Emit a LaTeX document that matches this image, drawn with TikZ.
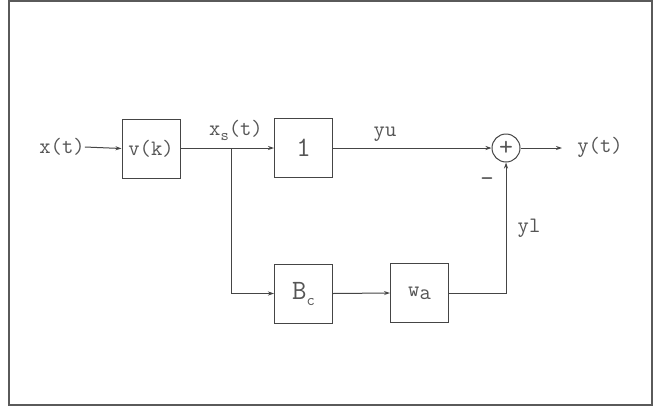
\documentclass[tikz,border=0pt]{standalone}
\usepackage{fontspec}
\usetikzlibrary{arrows.meta}
\definecolor{linec}{HTML}{454545}
\definecolor{txtc}{HTML}{555555}
\definecolor{framec}{HTML}{5A5A5A}
\begin{document}
\begin{tikzpicture}[x=1pt,y=-1pt,
  blk/.style={draw=linec, line width=1pt, minimum width=58pt, minimum height=59pt, inner sep=0pt, fill=white, text=txtc},
  lbl/.style={text=txtc, font=\ttfamily\fontsize{22}{22}\selectfont, inner sep=0pt},
  big/.style={font=\ttfamily\fontsize{28}{28}\selectfont},
  sig/.style={draw=linec, line width=1pt},
  arr/.style={sig, -{Stealth[length=6pt,width=4pt]}}]
\useasboundingbox (0,0) rectangle (655,407);
\fill[white] (0,0) rectangle (655,407);
\draw[line width=2pt, draw=framec] (9,1) rectangle (652,405);

\node[lbl] (xt) at (62,147) {x(t)};
\node[blk, lbl] (v) at (151,148.5) {v(k)};
\node[blk, big] (one) at (303.5,148) {1};
\node[blk, big] (bc) at (303.5,293.5) {B\raisebox{-6pt}{\fontsize{16}{16}\selectfont c}};
\node[blk, lbl] (wa) at (419.5,293) {w\raisebox{-3pt}{a}};
\node[draw=linec, line width=1pt, circle, minimum size=28pt, inner sep=0pt, text=txtc, font=\ttfamily\fontsize{27}{27}\selectfont] (sum) at (506,148) {+};

\node[lbl] (xs) at (236,130) {x\raisebox{-5pt}{\fontsize{16}{16}\selectfont s}(t)};
\node[lbl] (yu) at (385,134) {yu};
\node[lbl] (yt) at (600,147) {y(t)};
\node[lbl, font=\ttfamily\fontsize{26}{26}\selectfont] (minus) at (487,182) {-};
\node[lbl] (yl) at (529,228) {yl};

\coordinate (br) at (231,148);
\coordinate (out) at (562,148);

\draw[arr] (xt.east) -- (v.west);
\draw[arr] (v.east |- br) -- (one.west);
\draw[arr] (br) |- (bc.west);
\draw[arr] (bc.east) -- (wa.west);
\draw[arr] (one.east) -- (sum.west);
\draw[arr] (wa.east) -| (sum.south);
\draw[arr] (sum.east) -- (out);
\end{tikzpicture}
\end{document}
